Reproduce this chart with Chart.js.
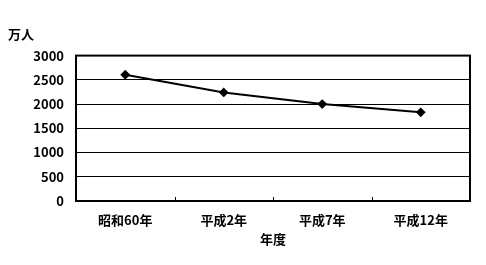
<!DOCTYPE html>
<html>
<head>
<meta charset="utf-8">
<script src="https://cdn.jsdelivr.net/npm/chart.js@4"></script>
<style>
  html, body { margin: 0; padding: 0; background: #fff; }
  #wrap { width: 486px; height: 265px; }
</style>
</head>
<body>
<div id="wrap"><canvas id="myChart"></canvas></div>
<script>
const years = ["昭和60年", "平成2年", "平成7年", "平成12年"];
const people = [2605, 2240, 2000, 1830];
const yTicks = [0, 500, 1000, 1500, 2000, 2500, 3000];

const black = "#000000";
const font = {family: "'Noto Sans CJK JP', sans-serif", size: 13, weight: "bold", lineHeight: 1.2};

// frame around the plot plus the small inward ticks between categories
const frame = {
  id: "frame",
  afterDatasetsDraw(chart) {
    const {ctx, chartArea: a} = chart;
    const x = chart.scales.x;
    ctx.save();
    ctx.strokeStyle = black;
    ctx.lineWidth = 1;
    for (let i = 0; i < years.length - 1; i++) {
      const px = Math.round((x.getPixelForValue(i) + x.getPixelForValue(i + 1)) / 2) + 0.5;
      ctx.beginPath();
      ctx.moveTo(px, a.bottom);
      ctx.lineTo(px, a.bottom - 4);
      ctx.stroke();
    }
    ctx.lineWidth = 2;
    ctx.strokeRect(a.left, a.top, a.right - a.left, a.bottom - a.top);
    ctx.restore();
  }
};

const cfg = {
  type: "line",
  data: {
    labels: years,
    datasets: [{
      label: "万人",
      data: people,
      borderColor: black,
      backgroundColor: black,
      borderWidth: 2,
      pointStyle: "rectRot",
      pointRadius: 3.5,
      tension: 0
    }]
  },
  options: {
    responsive: true,
    maintainAspectRatio: false,
    animation: false,
    layout: {padding: {left: 8, right: 16, top: 0, bottom: 0}},
    plugins: {
      legend: {display: false},
      tooltip: {enabled: false},
      title: {
        display: true,
        text: "万人",
        align: "start",
        color: black,
        font: font,
        padding: {top: 26, bottom: 14}
      }
    },
    scales: {
      x: {
        offset: true,
        afterFit(scale) { scale.height = 64; },
        grid: {display: false},
        border: {display: false},
        ticks: {color: black, font: font, padding: 3, maxRotation: 0},
        title: {display: true, text: "年度", color: black, font: font, padding: {top: 4, bottom: 18}}
      },
      y: {
        min: 0,
        max: 3000,
        afterFit(scale) { scale.width = 68; },
        afterBuildTicks(scale) { scale.ticks = yTicks.map(v => ({value: v})); },
        grid: {color: black, lineWidth: 1, tickLength: 0},
        border: {display: false},
        ticks: {color: black, font: font, padding: 12, callback: v => String(v)}
      }
    }
  },
  plugins: [frame]
};

new Chart(document.getElementById("myChart"), cfg);
</script>
</body>
</html>
